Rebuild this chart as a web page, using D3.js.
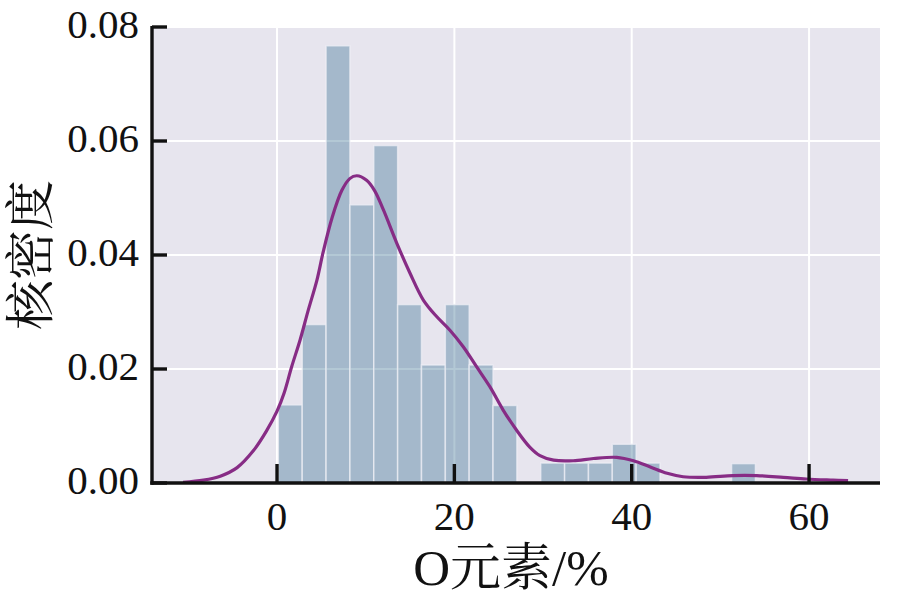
<!DOCTYPE html>
<html>
<head>
<meta charset="utf-8">
<script src="https://cdn.jsdelivr.net/npm/d3@7"></script>
<style>
  html, body { margin: 0; padding: 0; background: #ffffff; }
  svg { display: block; }
</style>
</head>
<body>
<svg id="chart" width="897" height="605"></svg>
<script>
// ---- data ----
const binEdges = [0.15, 2.84, 5.53, 8.22, 10.91, 13.6, 16.29, 18.98, 21.67, 24.36, 27.05,
                  29.74, 32.43, 35.12, 37.81, 40.5, 43.19, 45.88, 48.57, 51.26, 53.95];
const binDensity = [0.0137, 0.0278, 0.0767, 0.0488, 0.0592, 0.0313, 0.0207, 0.0313, 0.0207, 0.0136,
                    0.0, 0.0035, 0.0035, 0.0035, 0.0068, 0.0035, 0.0, 0.0, 0.0, 0.0034];

const kdeX = [-10.6, -8.3, -6.4, -4.5, -2.7, -1.2, 0.0, 0.8, 1.65, 2.6, 3.5, 4.5, 5.2, 6.2, 7.3, 8.2, 9.0,
              10.1, 11.0, 12.0, 13.5, 15.0, 16.5, 18.0, 19.5, 21.0, 22.5, 24.0, 25.5, 27.0, 28.5,
              29.65, 31.2, 33.4, 35.7, 38.3, 40.2, 42.1, 44.0, 45.8, 48.4, 51.4, 54.1, 57.1, 59.7, 62.7, 64.4];
const kdeY = [0.0001, 0.0005, 0.0012, 0.0027, 0.0056, 0.0091, 0.0126, 0.0158, 0.0204, 0.0251, 0.0302, 0.0356, 0.0405, 0.0465, 0.0513, 0.0534, 0.0539,
              0.0531, 0.0513, 0.0479, 0.0421, 0.0368, 0.0321, 0.0292, 0.0268, 0.0239, 0.0204, 0.0169, 0.0128, 0.0093, 0.0063,
              0.0048, 0.0040, 0.0039, 0.0043, 0.0045, 0.0039, 0.0028, 0.0017, 0.0011, 0.0010, 0.0013, 0.0013, 0.0010, 0.0007, 0.0005, 0.0004];

const xTicks = [0, 20, 40, 60];
const yTicks = [0.00, 0.02, 0.04, 0.06, 0.08];
const xLabel = "O元素/%";
const yLabel = "核密度";

// ---- layout ----
const svg = d3.select("#chart");
const pL = 152, pR = 880, pT = 27, pB = 483;
const x = d3.scaleLinear().domain([-14.1, 68]).range([pL, pR]);
const y = d3.scaleLinear().domain([0, 0.08]).range([pB, pT]);

const serif = "'Liberation Serif', 'Times New Roman', 'Noto Serif CJK SC', 'Noto Sans CJK SC', serif";

// background
svg.append("rect")
  .attr("x", pL).attr("y", pT)
  .attr("width", pR - pL).attr("height", pB - pT)
  .attr("fill", "#e7e5ee");

// gridlines
const grid = svg.append("g");
grid.selectAll("line.gx").data(xTicks).join("line")
  .attr("x1", d => x(d)).attr("x2", d => x(d))
  .attr("y1", pT).attr("y2", pB)
  .attr("stroke", "#ffffff").attr("stroke-width", 2);
grid.selectAll("line.gy").data(yTicks).join("line")
  .attr("x1", pL).attr("x2", pR)
  .attr("y1", d => y(d)).attr("y2", d => y(d))
  .attr("stroke", "#ffffff").attr("stroke-width", 2);

// bars
const bins = binDensity.map((v, i) => ({x0: binEdges[i], x1: binEdges[i + 1], v}));
svg.append("g").selectAll("rect").data(bins.filter(b => b.v > 0)).join("rect")
  .attr("x", d => x(d.x0))
  .attr("y", d => y(d.v))
  .attr("width", d => x(d.x1) - x(d.x0))
  .attr("height", d => y(0) - y(d.v))
  .attr("fill", "rgb(64,118,150)")
  .attr("fill-opacity", 0.4)
  .attr("stroke", "rgba(240,240,246,0.7)")
  .attr("stroke-width", 1.5);

// kde line
const kde = kdeX.map((d, i) => [d, kdeY[i]]);
svg.append("path")
  .datum(kde)
  .attr("d", d3.line().x(d => x(d[0])).y(d => y(d[1])).curve(d3.curveCatmullRom.alpha(0.5)))
  .attr("fill", "none")
  .attr("stroke", "#872c85")
  .attr("stroke-width", 3.2);

// axes spines
svg.append("line").attr("x1", pL).attr("x2", pL).attr("y1", pT - 1).attr("y2", pB + 1.7)
  .attr("stroke", "#111").attr("stroke-width", 3.4);
svg.append("line").attr("x1", pL - 1.7).attr("x2", pR).attr("y1", pB).attr("y2", pB)
  .attr("stroke", "#111").attr("stroke-width", 3.4);

// ticks (inward)
svg.append("g").selectAll("line").data(xTicks).join("line")
  .attr("x1", d => x(d)).attr("x2", d => x(d))
  .attr("y1", pB).attr("y2", pB - 19)
  .attr("stroke", "#111").attr("stroke-width", 3.4);
svg.append("g").selectAll("line").data(yTicks).join("line")
  .attr("x1", pL).attr("x2", pL + 15)
  .attr("y1", d => y(d)).attr("y2", d => y(d))
  .attr("stroke", "#111").attr("stroke-width", 3.4);

// tick labels
svg.append("g").selectAll("text").data(xTicks).join("text")
  .attr("x", d => x(d)).attr("y", 530)
  .attr("text-anchor", "middle")
  .attr("font-family", serif).attr("font-size", 41).attr("fill", "#111")
  .text(d => d3.format("d")(d));
svg.append("g").selectAll("text").data(yTicks).join("text")
  .attr("x", 139).attr("y", d => y(d) + 11)
  .attr("text-anchor", "end")
  .attr("font-family", serif).attr("font-size", 41).attr("fill", "#111")
  .text(d => d3.format(".2f")(d));

// axis labels
svg.append("text")
  .attr("x", 511).attr("y", 585)
  .attr("text-anchor", "middle")
  .attr("font-family", serif).attr("font-size", 51).attr("fill", "#111")
  .text(xLabel);
svg.append("text")
  .attr("transform", "translate(31,255) rotate(-90)")
  .attr("text-anchor", "middle").attr("dominant-baseline", "central")
  .attr("font-family", serif).attr("font-size", 50).attr("fill", "#111")
  .text(yLabel);
</script>
</body>
</html>
